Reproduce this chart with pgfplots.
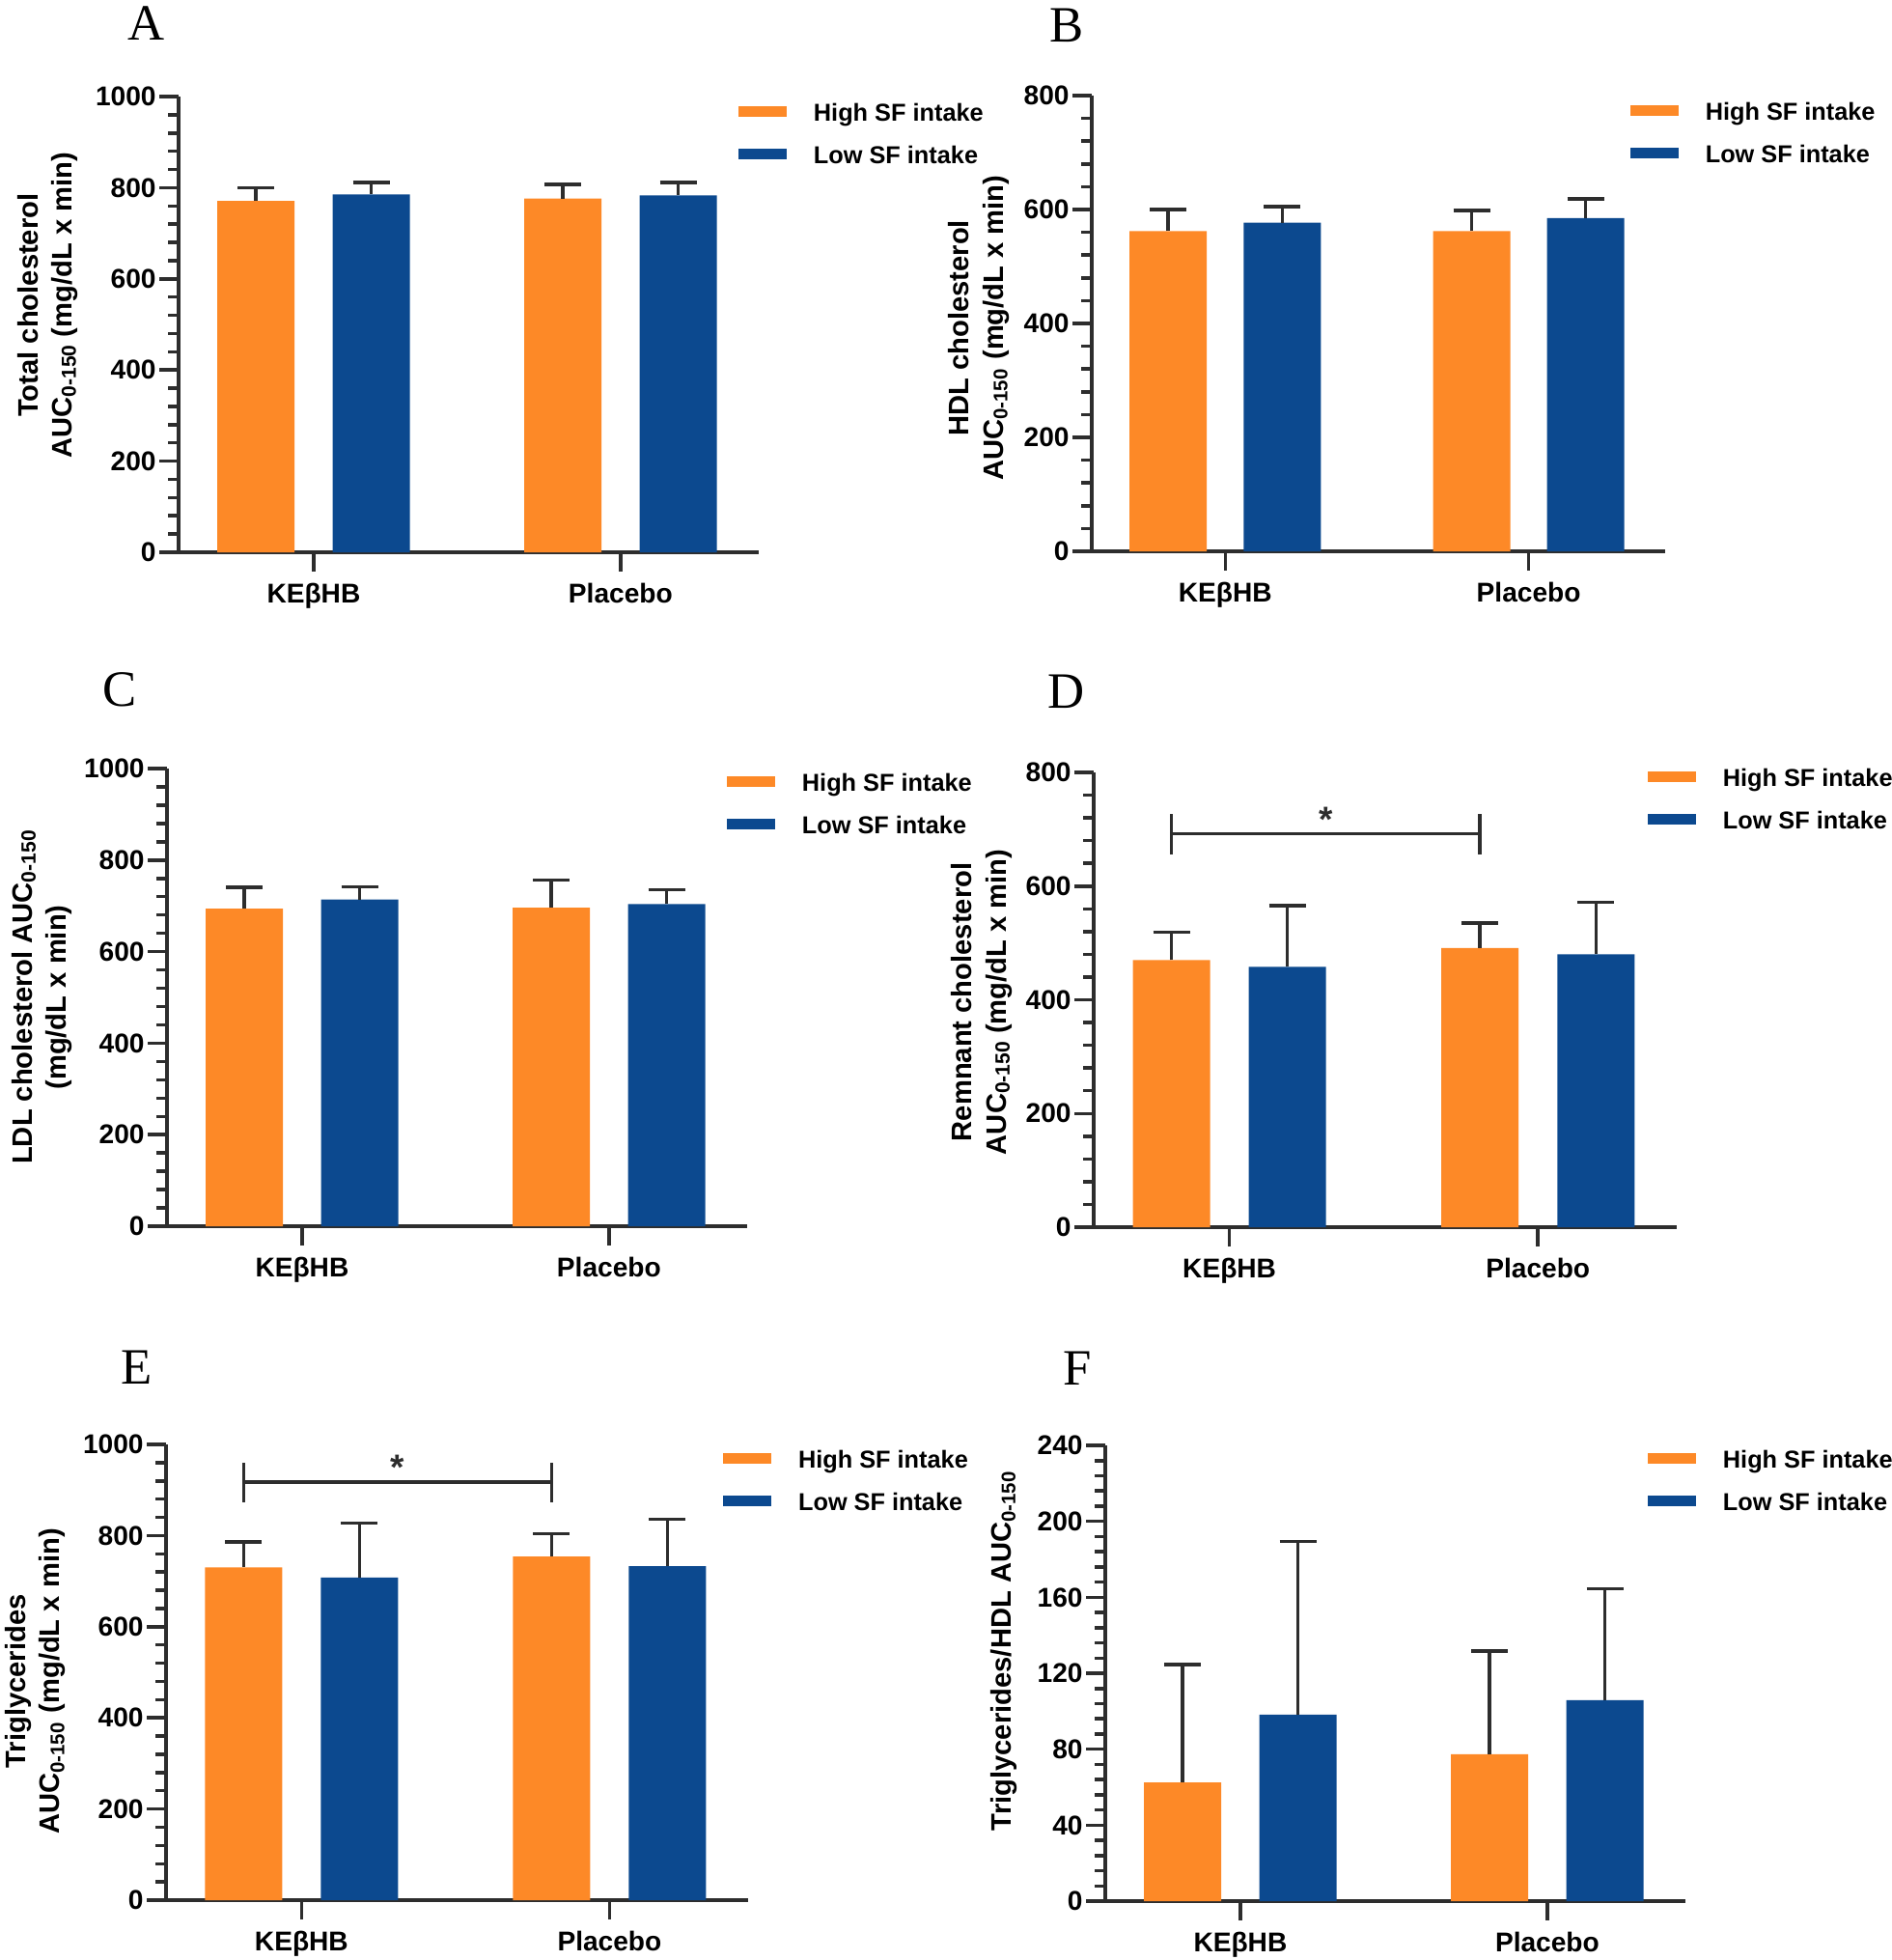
\documentclass[border=0pt]{standalone}
\usepackage{fontspec}
\setmainfont{Liberation Sans}
\newfontfamily\serifletter{Liberation Serif}
\usepackage{pgfplots}
\usepackage{pgfplotstable}
\pgfplotsset{compat=1.18}
\definecolor{orng}{RGB}{253,137,39}
\definecolor{blu}{RGB}{12,73,143}
\definecolor{axgray}{RGB}{45,45,45}

% x: 0 = KEbetaHB, 1 = Placebo; hi = High SF intake, lo = Low SF intake (mean, +SD)
\pgfplotstableread{
x hi hie lo loe
0 771 29 785 26
1 776 31 783 28
}\dataA
\pgfplotstableread{
x hi hie lo loe
0 562 38 577 28
1 562 36 585 34
}\dataB
\pgfplotstableread{
x hi hie lo loe
0 694 47 714 28
1 696 60 704 31
}\dataC
\pgfplotstableread{
x hi hie lo loe
0 470 49 458 108
1 491 44 480 92
}\dataD
\pgfplotstableread{
x hi hie lo loe
0 730 56 708 119
1 754 50 733 103
}\dataE
\pgfplotstableread{
x hi hie lo loe
0 62.5 62.2 98.2 91.3
1 77.3 54.4 105.8 58.8
}\dataF

\pgfplotsset{
 panel/.style={
  scale only axis, height=47.2mm, xmin=-0.44, xmax=1.45, ymin=0,
  axis x line*=bottom, axis y line*=left,
  axis line style={line width=0.4mm, draw=axgray, -},
  every tick/.style={line width=0.35mm, draw=axgray},
  tick align=outside,
  major tick length=2mm, minor tick length=1.1mm,
  minor y tick num=4,
  xtick={0,1}, xticklabels={KEβHB,Placebo},
  /pgf/number format/assume math mode=true,
  /pgf/number format/1000 sep={},
  tick label style={font=\bfseries\fontsize{8}{9}\selectfont},
  yticklabel style={xshift=0.9mm},
  label style={font=\bfseries\fontsize{8.3}{10}\selectfont},
  ylabel style={align=center, anchor=center},
  legend style={draw=none, fill=none, inner sep=0pt, outer sep=0pt,
    column sep=2.8mm, row sep=1.6mm,
    font=\bfseries\fontsize{7.2}{8}\selectfont,
    nodes={inner sep=0pt, text height=2.2mm, text depth=0.6mm, anchor=base west},
    anchor=north west},
  legend cell align=left,
  legend image code/.code={\fill[##1] (0mm,0.45mm) rectangle (5mm,1.55mm);},
  clip=false,
 },
 barbase/.style={ybar, bar width=8mm, bar shift=0pt, draw=none},
 errs/.style={error bars/.cd, y dir=plus, y explicit, error mark=|,
   error bar style={line width=0.35mm, draw=axgray},
   error mark options={mark size=1.9mm, line width=0.35mm, draw=axgray}},
}

\newcommand{\bars}[1]{%
  \addplot[barbase, fill=orng, errs] table[x expr=\thisrow{x}-0.188, y=hi, y error=hie]{#1};
  \addlegendentry{High SF intake}
  \addplot[barbase, fill=blu, errs] table[x expr=\thisrow{x}+0.188, y=lo, y error=loe]{#1};
  \addlegendentry{Low SF intake}
}
\newcommand{\smallsub}{\raisebox{-0.25ex}{\fontsize{6}{6}\selectfont 0-150}}

\begin{document}
\begin{tikzpicture}
\useasboundingbox (0,0) rectangle (195.9mm,-203mm);

% Panel letters
\node[font=\serifletter\fontsize{15}{15}\selectfont] at (15.2mm,-2.4mm) {A};
\node[font=\serifletter\fontsize{15}{15}\selectfont] at (110.5mm,-2.6mm) {B};
\node[font=\serifletter\fontsize{15}{15}\selectfont] at (12.4mm,-71.4mm) {C};
\node[font=\serifletter\fontsize{15}{15}\selectfont] at (110.5mm,-71.6mm) {D};
\node[font=\serifletter\fontsize{15}{15}\selectfont] at (14.2mm,-141.6mm) {E};
\node[font=\serifletter\fontsize{15}{15}\selectfont] at (111.6mm,-141.7mm) {F};

% A
\begin{axis}[panel, at={(18.5mm,-57.2mm)}, anchor=south west, width=60.1mm,
  ymax=1000, ytick={0,200,...,1000},
  ylabel={Total cholesterol\\AUC\smallsub{} (mg/dL x min)},
  ylabel style={at={(axis description cs:-0.225,0.542)}},
  legend style={at={(axis description cs:0.965,0.9936)}}]
\bars{\dataA}
\end{axis}

% B
\begin{axis}[panel, at={(113.1mm,-57.1mm)}, anchor=south west, width=59.4mm,
  ymax=800, ytick={0,200,...,800},
  ylabel={HDL cholesterol\\AUC\textsubscript{0-150} (mg/dL x min)},
  ylabel style={at={(axis description cs:-0.197,0.49)}},
  legend style={at={(axis description cs:0.939,0.9936)}}]
\bars{\dataB}
\end{axis}

% C
\begin{axis}[panel, at={(17.3mm,-127.0mm)}, anchor=south west, width=60.1mm, height=47.4mm,
  ymax=1000, ytick={0,200,...,1000},
  ylabel={LDL cholesterol AUC\smallsub\\(mg/dL x min)},
  ylabel style={at={(axis description cs:-0.216,0.5)}},
  legend style={at={(axis description cs:0.965,0.9958)}}]
\bars{\dataC}
\end{axis}

% D
\begin{axis}[panel, at={(113.3mm,-127.1mm)}, anchor=south west, width=60.4mm, height=47.1mm,
  ymax=800, ytick={0,200,...,800},
  ylabel={Remnant cholesterol\\AUC\smallsub{} (mg/dL x min)},
  ylabel style={at={(axis description cs:-0.192,0.495)}},
  legend style={at={(axis description cs:0.950,1.017)}}]
\bars{\dataD}
\draw[line width=0.35mm, axgray] (axis cs:-0.188,692) -- (axis cs:0.812,692);
\draw[line width=0.35mm, axgray] (axis cs:-0.188,656) -- (axis cs:-0.188,727);
\draw[line width=0.35mm, axgray] (axis cs:0.812,656) -- (axis cs:0.812,727);
\node[font=\bfseries\fontsize{10.5}{10.5}\selectfont, text=axgray] at ([yshift=1.5mm]axis cs:0.312,692) {*};
\end{axis}

% E
\begin{axis}[panel, at={(17.2mm,-196.8mm)}, anchor=south west, width=60.3mm,
  ymax=1000, ytick={0,200,...,1000},
  ylabel={Triglycerides\\AUC\textsubscript{0-150} (mg/dL x min)},
  ylabel style={at={(axis description cs:-0.224,0.48)}},
  legend style={at={(axis description cs:0.957,0.9958)}}]
\bars{\dataE}
\draw[line width=0.35mm, axgray] (axis cs:-0.188,917) -- (axis cs:0.812,917);
\draw[line width=0.35mm, axgray] (axis cs:-0.188,873) -- (axis cs:-0.188,960);
\draw[line width=0.35mm, axgray] (axis cs:0.812,873) -- (axis cs:0.812,960);
\node[font=\bfseries\fontsize{10.5}{10.5}\selectfont, text=axgray] at ([yshift=1.5mm]axis cs:0.312,917) {*};
\end{axis}

% F
\begin{axis}[panel, at={(114.5mm,-196.9mm)}, anchor=south west, width=60.1mm,
  ymax=240, ytick={0,40,...,240},
  ylabel={Triglycerides/HDL AUC\textsubscript{0-150}},
  ylabel style={at={(axis description cs:-0.175,0.55)}},
  legend style={at={(axis description cs:0.935,0.9958)}}]
\bars{\dataF}
\end{axis}
\end{tikzpicture}
\end{document}
